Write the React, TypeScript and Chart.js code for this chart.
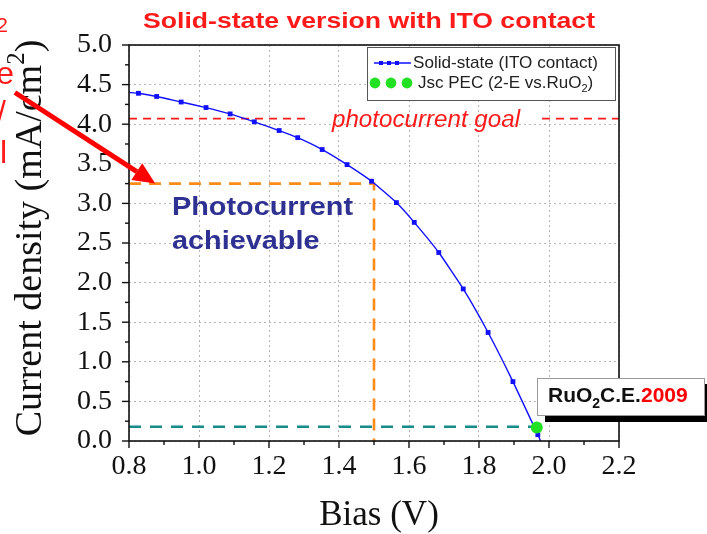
import React, { useEffect, useRef } from 'react';
import { Chart, registerables } from 'chart.js';

Chart.register(...registerables);

// ---------- data ----------
const biasV = [0.8, 0.827, 0.879, 0.949, 1.02, 1.089, 1.158, 1.229, 1.282, 1.352, 1.423, 1.493, 1.564, 1.615, 1.685, 1.755, 1.826, 1.897, 1.968, 1.976];
const currentJ = [4.4, 4.39, 4.35, 4.28, 4.21, 4.13, 4.03, 3.92, 3.83, 3.68, 3.49, 3.28, 3.01, 2.76, 2.38, 1.92, 1.37, 0.75, 0.08, 0.0];
const markerShown = [false, true, true, true, true, true, true, true, true, true, true, true, true, true, true, true, true, true, true, false];

const jscBias = [1.965];
const jscCurrent = [0.17];

const goalCurrent = 4.07;
const goalSegmentsV = [0.8, 1.32, 1.98, 2.2];
const achievableCurrent = 3.25;
const achievableBias = 1.5;
const jscLineCurrent = 0.18;

const xMin = 0.8, xMax = 2.2, xStep = 0.2, xMinor = 0.1;
const yMin = 0, yMax = 5, yStep = 0.5, yMinor = 0.25;

const titleText = 'Solid-state version with ITO contact';
const xTitle = 'Bias (V)';
const yTitleMain = 'Current density (mA/cm';
const legendLabels = ['Solid-state (ITO contact)', 'Jsc PEC (2-E vs.RuO'];
const goalText = 'photocurrent goal';
const achievableText = ['Photocurrent', 'achievable'];
const arrowFrom = { x: 0.474, y: 4.4 };
const arrowTo = { x: 0.875, y: 3.25 };
const leftCutText = [
  { t: '2', size: 21, x: 8, y: 32 },
  { t: 'e', size: 32, x: 14, y: 84 },
  { t: '/', size: 32, x: 6, y: 123 },
  { t: 'l', size: 32, x: 7, y: 163 },
];

// ---------- styles ----------
const SANS = '"Liberation Sans", Arial, sans-serif';
const SERIF = '"Liberation Serif", "Times New Roman", serif';
const BLUE = '#1010ff';
const GREEN = '#22e022';
const RED = '#ff1a1a';
const ORANGE = '#ff8c1a';
const TEAL = '#178a8a';
const NAVY = '#2f3192';

function fitText(ctx: CanvasRenderingContext2D, text: string, x: number, y: number, width: number) {
  const w = ctx.measureText(text).width;
  ctx.save();
  ctx.translate(x, y);
  ctx.scale(width / w, 1);
  ctx.textAlign = 'left';
  ctx.fillText(text, 0, 0);
  ctx.restore();
}

const overlay = {
  id: 'overlay',
  afterDraw(chart: any) {
    const { ctx, chartArea: a, scales } = chart;
    const x = scales.x, y = scales.y;
    ctx.save();
    ctx.setLineDash([]);

    // frame
    ctx.strokeStyle = '#111';
    ctx.lineWidth = 1.6;
    ctx.strokeRect(a.left, a.top, a.right - a.left, a.bottom - a.top);

    // ticks (outward)
    ctx.lineWidth = 1.4;
    const nx = Math.round((xMax - xMin) / xMinor);
    for (let i = 0; i <= nx; i++) {
      const px = x.getPixelForValue(xMin + i * xMinor);
      const len = i % 2 === 0 ? 7 : 4;
      ctx.beginPath(); ctx.moveTo(px, a.bottom); ctx.lineTo(px, a.bottom + len); ctx.stroke();
    }
    const ny = Math.round((yMax - yMin) / yMinor);
    for (let i = 0; i <= ny; i++) {
      const py = y.getPixelForValue(yMin + i * yMinor);
      const len = i % 2 === 0 ? 7 : 4;
      ctx.beginPath(); ctx.moveTo(a.left - len, py); ctx.lineTo(a.left, py); ctx.stroke();
    }

    // title
    ctx.fillStyle = RED;
    ctx.font = `bold 22px ${SANS}`;
    ctx.textBaseline = 'alphabetic';
    fitText(ctx, titleText, 143, 28, 452);

    // left cut text
    ctx.textAlign = 'right';
    leftCutText.forEach((l) => {
      ctx.font = `${l.size}px ${SANS}`;
      ctx.fillText(l.t, l.x, l.y);
    });

    // x title
    ctx.fillStyle = '#111';
    ctx.textAlign = 'center';
    ctx.font = `35px ${SERIF}`;
    ctx.fillText(xTitle, (a.left + a.right) / 2 + 5, 525);

    // y title (rotated) with superscript
    ctx.save();
    ctx.translate(31, 238);
    ctx.rotate(-Math.PI / 2);
    ctx.textAlign = 'left';
    ctx.textBaseline = 'middle';
    ctx.font = `38px ${SERIF}`;
    const w1 = ctx.measureText(yTitleMain).width;
    const w3 = ctx.measureText(')').width;
    ctx.font = `25px ${SERIF}`;
    const w2 = ctx.measureText('2').width;
    const total = w1 + w2 + w3;
    const sx = -total / 2;
    ctx.font = `38px ${SERIF}`;
    ctx.fillText(yTitleMain, sx, 0);
    ctx.font = `25px ${SERIF}`;
    ctx.fillText('2', sx + w1, -14);
    ctx.font = `38px ${SERIF}`;
    ctx.fillText(')', sx + w1 + w2, 0);
    ctx.restore();

    // photocurrent goal label
    ctx.fillStyle = RED;
    ctx.textBaseline = 'alphabetic';
    ctx.font = `italic 23px ${SANS}`;
    fitText(ctx, goalText, 332, 127, 188);

    // photocurrent achievable
    ctx.fillStyle = NAVY;
    ctx.font = `bold 26px ${SANS}`;
    const pw = ctx.measureText(achievableText[0]).width;
    const k = 181 / pw;
    fitText(ctx, achievableText[0], 172, 215, 181);
    fitText(ctx, achievableText[1], 172, 249, ctx.measureText(achievableText[1]).width * k);

    // red arrow
    const ax0 = x.getPixelForValue(arrowFrom.x), ay0 = y.getPixelForValue(arrowFrom.y);
    const ax1 = x.getPixelForValue(arrowTo.x), ay1 = y.getPixelForValue(arrowTo.y);
    const ang = Math.atan2(ay1 - ay0, ax1 - ax0);
    const headL = 22, headW = 10;
    const bx = ax1 - headL * Math.cos(ang), by = ay1 - headL * Math.sin(ang);
    ctx.strokeStyle = '#ff0000';
    ctx.fillStyle = '#ff0000';
    ctx.lineWidth = 5;
    ctx.beginPath(); ctx.moveTo(ax0, ay0); ctx.lineTo(bx, by); ctx.stroke();
    ctx.beginPath();
    ctx.moveTo(ax1, ay1);
    ctx.lineTo(bx + headW * Math.sin(ang), by - headW * Math.cos(ang));
    ctx.lineTo(bx - headW * Math.sin(ang), by + headW * Math.cos(ang));
    ctx.closePath(); ctx.fill();

    // legend
    ctx.fillStyle = '#fff';
    ctx.fillRect(367, 47, 248, 53);
    ctx.strokeStyle = '#555';
    ctx.lineWidth = 1;
    ctx.strokeRect(367.5, 47.5, 248, 53);
    ctx.strokeStyle = BLUE;
    ctx.lineWidth = 1.3;
    ctx.beginPath(); ctx.moveTo(374, 63); ctx.lineTo(411, 63); ctx.stroke();
    ctx.fillStyle = BLUE;
    [381, 389, 397].forEach((mx) => ctx.fillRect(mx - 2, 61, 4, 4));
    ctx.fillStyle = GREEN;
    [375, 391, 407].forEach((mx) => { ctx.beginPath(); ctx.arc(mx, 83, 5.4, 0, Math.PI * 2); ctx.fill(); });
    ctx.fillStyle = '#222';
    ctx.font = `17px ${SANS}`;
    fitText(ctx, legendLabels[0], 413, 68, 185);
    ctx.font = `17px ${SANS}`;
    ctx.textAlign = 'left';
    ctx.fillText(legendLabels[1], 418, 88);
    const lw = ctx.measureText(legendLabels[1]).width;
    ctx.font = `11px ${SANS}`;
    ctx.fillText('2', 418 + lw, 92);
    const sw = ctx.measureText('2').width;
    ctx.font = `17px ${SANS}`;
    ctx.fillText(')', 418 + lw + sw, 88);

    // RuO2 C.E. 2009 box
    ctx.fillStyle = '#000';
    ctx.fillRect(545, 384, 170, 38);
    ctx.fillStyle = '#fff';
    ctx.fillRect(537, 378, 168, 38);
    ctx.strokeStyle = '#999';
    ctx.lineWidth = 1;
    ctx.strokeRect(537.5, 378.5, 167, 37);
    let tx = 548;
    ctx.fillStyle = '#111';
    ctx.font = `bold 21px ${SANS}`;
    ctx.fillText('RuO', tx, 402); tx += ctx.measureText('RuO').width;
    ctx.font = `bold 14px ${SANS}`;
    ctx.fillText('2', tx, 408); tx += ctx.measureText('2').width;
    ctx.font = `bold 21px ${SANS}`;
    ctx.fillText('C.E.', tx, 402); tx += ctx.measureText('C.E.').width;
    ctx.fillStyle = '#ff0000';
    ctx.fillText('2009', tx, 402);

    ctx.restore();
  },
};

export default function App() {
  const ref = useRef<HTMLCanvasElement>(null);
  useEffect(() => {
    if (!ref.current) return;
    const solid = biasV.map((v, i) => ({ x: v, y: currentJ[i] }));
    const jsc = jscBias.map((v, i) => ({ x: v, y: jscCurrent[i] }));
    const goal = [
      { x: goalSegmentsV[0], y: goalCurrent },
      { x: goalSegmentsV[1], y: goalCurrent },
      { x: (goalSegmentsV[1] + goalSegmentsV[2]) / 2, y: null },
      { x: goalSegmentsV[2], y: goalCurrent },
      { x: goalSegmentsV[3], y: goalCurrent },
    ];
    const achieve = [
      { x: xMin, y: achievableCurrent },
      { x: achievableBias, y: achievableCurrent },
      { x: achievableBias, y: yMin },
    ];
    const jscLine = [
      { x: xMin, y: jscLineCurrent },
      { x: jscBias[0], y: jscLineCurrent },
    ];
    const chart = new Chart(ref.current, {
      type: 'line',
      data: {
        datasets: [
          { label: 'Jsc PEC', data: jsc as any, showLine: false, pointRadius: 6, pointBackgroundColor: GREEN, pointBorderWidth: 0, pointBorderColor: GREEN },
          {
            label: 'Solid-state (ITO contact)', data: solid as any, borderColor: BLUE, borderWidth: 1.4,
            pointStyle: 'rect', pointRadius: markerShown.map((m) => (m ? 3.4 : 0)), pointBackgroundColor: BLUE, pointBorderColor: BLUE, pointBorderWidth: 0, tension: 0.15,
          },
          { label: 'goal', data: goal as any, borderColor: RED, borderWidth: 1.6, borderDash: [8, 6], pointRadius: 0, spanGaps: false },
          { label: 'achievable', data: achieve as any, borderColor: ORANGE, borderWidth: 2.6, borderDash: [12, 8], pointRadius: 0 },
          { label: 'jsc line', data: jscLine as any, borderColor: TEAL, borderWidth: 2.6, borderDash: [12, 9], pointRadius: 0 },
        ],
      },
      options: {
        animation: false,
        responsive: false,
        maintainAspectRatio: false,
        layout: { padding: { top: 45, right: 88, left: 0, bottom: 0 } },
        plugins: { legend: { display: false }, tooltip: { enabled: false }, title: { display: false } },
        scales: {
          x: {
            type: 'linear', min: xMin, max: xMax,
            afterFit: (s: any) => { s.height = 93; },
            ticks: { stepSize: xStep, color: '#111', font: { family: SERIF, size: 28 }, padding: 9, callback: (v: any) => Number(v).toFixed(1), maxRotation: 0 },
            grid: { color: '#b5b5b5', lineWidth: 1, drawTicks: false },
            border: { display: false, dash: [2, 3] },
          },
          y: {
            type: 'linear', min: yMin, max: yMax,
            afterFit: (s: any) => { s.width = 129; },
            ticks: { stepSize: yStep, color: '#111', font: { family: SERIF, size: 28 }, padding: 17, callback: (v: any) => Number(v).toFixed(1) },
            grid: { color: '#b5b5b5', lineWidth: 1, drawTicks: false },
            border: { display: false, dash: [2, 3] },
          },
        },
      },
      plugins: [overlay],
    });
    return () => chart.destroy();
  }, []);
  return (
    <div style={{ position: 'fixed', left: 0, top: 0, width: 707, height: 534, background: '#fff' }}>
      <canvas ref={ref} width={707} height={534} style={{ display: 'block', width: 707, height: 534 }} />
    </div>
  );
}
